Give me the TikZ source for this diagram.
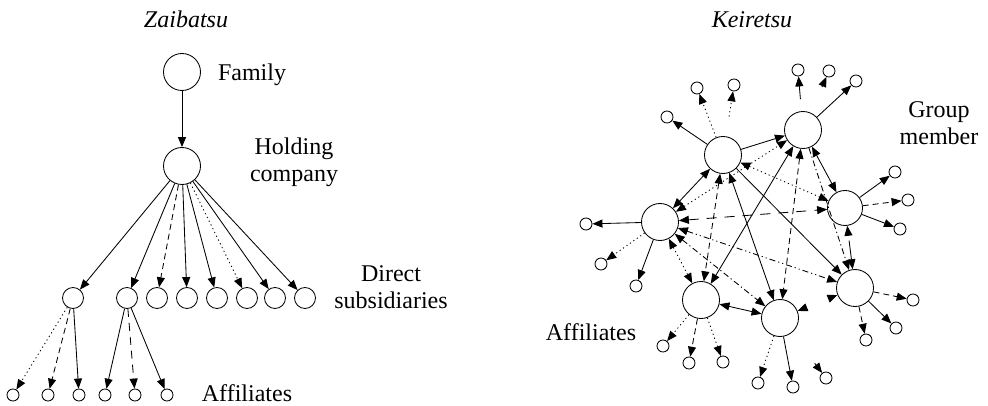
\documentclass[tikz,border=0pt]{standalone}
\usepackage{fontspec}
\setmainfont{Liberation Serif}
\usetikzlibrary{arrows.meta}
\begin{document}
\begin{tikzpicture}[x=1pt,y=-1pt, line width=0.85pt,
 big/.style={circle,draw,minimum size=37pt,inner sep=0pt},
 mid/.style={circle,draw,minimum size=21pt,inner sep=0pt},
 sml/.style={circle,draw,minimum size=12pt,inner sep=0pt},
 lbl/.style={font=\fontsize{24}{27}\selectfont, align=center, inner sep=0pt},
 ttl/.style={font=\fontsize{24}{27}\selectfont\itshape, inner sep=0pt, anchor=base},
 arr/.style={-{Triangle[length=10pt,width=8pt]}},
 barr/.style={{Triangle[length=10pt,width=8pt]}-{Triangle[length=10pt,width=8pt]}},
 ldash/.style={dash pattern=on 6pt off 4pt},
 ldot/.style={dash pattern=on 1.2pt off 3pt},
 ldd/.style={dash pattern=on 6pt off 3pt on 1.2pt off 3pt},
 lddd/.style={dash pattern=on 6pt off 3pt on 1.2pt off 3pt on 1.2pt off 3pt},
]
\useasboundingbox (0,0) rectangle (988,406);

% ---------------- Zaibatsu ----------------
\node[ttl] (tz) at (186,28) {Zaibatsu};
\node[big] (fam) at (182,72) {};
\node[big] (hold) at (182,166) {};
\node[lbl, anchor=base] (lfam) at (252,81) {Family};
\node[lbl] (lhold) at (294,162) {Holding\\company};
\node[lbl] (ldir) at (391,287) {Direct\\subsidiaries};
\node[lbl, anchor=base] (laff) at (247,401) {Affiliates};

\foreach \i/\x in {1/73,2/127,3/157,4/187,5/217,6/247,7/275,8/305}
  \node[mid] (s\i) at (\x,298) {};
\foreach \i/\x in {1/13,2/48,3/79,4/105,5/135,6/167}
  \node[sml] (z\i) at (\x,395) {};

\draw[arr] (fam) -- (hold);
\draw[arr] (hold) -- (s1);
\draw[arr] (hold) -- (s2);
\draw[arr, ldash] (hold) -- (s3);
\draw[arr] (hold) -- (s4);
\draw[arr] (hold) -- (s5);
\draw[arr, ldot] (hold) -- (s6);
\draw[arr] (hold) -- (s7);
\draw[arr] (hold) -- (s8);

\draw[arr, ldot] (s1) -- (z1);
\draw[arr, ldash] (s1) -- (z2);
\draw[arr] (s1) -- (z3);
\draw[arr] (s2) -- (z4);
\draw[arr, dash pattern=on 8pt off 6pt] (s2) -- (z5);
\draw[arr] (s2) -- (z6);

% ---------------- Keiretsu ----------------
\node[ttl] (tk) at (752,28) {Keiretsu};
\node[lbl] (lgrp) at (939,123) {Group\\member};
\node[lbl, anchor=base] (laff2) at (591,340) {Affiliates};

\node[big] (A) at (723,155) {};
\node[big] (B) at (803,130) {};
\node[big, minimum size=35pt] (C) at (845,208) {};
\node[big] (D) at (855,288) {};
\node[big] (E) at (660,222) {};
\node[big] (F) at (701,300) {};
\node[big] (G) at (780,318) {};

% affiliates of group members
\node[sml] (a1) at (667,117) {};
\node[sml] (a2) at (697,88) {};
\node[sml] (a3) at (734,85) {};
\node[sml] (b1) at (798,70) {};
\node[sml] (b2) at (829,71) {};
\node[sml] (b3) at (856,81) {};
\node[sml] (c1) at (895,172) {};
\node[sml] (c2) at (908,200) {};
\node[sml] (c3) at (900,229) {};
\node[sml] (d1) at (913,300) {};
\node[sml] (d2) at (896,328) {};
\node[sml] (d3) at (866,340) {};
\node[sml] (g1) at (758,383) {};
\node[sml] (g2) at (793,387) {};
\node[sml] (g3) at (826,378) {};
\node[sml] (f1) at (663,346) {};
\node[sml] (f2) at (689,363) {};
\node[sml] (f3) at (723,362) {};
\node[sml] (e1) at (586,224) {};
\node[sml] (e2) at (601,264) {};
\node[sml] (e3) at (636,286) {};

\draw[arr] (A) -- (a1);
\draw[arr, ldot] (A) -- (a2);
\draw[arr, ldot, shorten <=20pt] (A) -- (a3);
\draw[arr, shorten <=12pt] (B) -- (b1);
\draw[arr, shorten <=28pt] (B) -- (b2);
\draw[arr] (B) -- (b3);
\draw[arr] (C) -- (c1);
\draw[arr, ldash] (C) -- (c2);
\draw[arr] (C) -- (c3);
\draw[arr, ldash] (D) -- (d1);
\draw[arr] (D) -- (d2);
\draw[arr, ldash] (D) -- (d3);
\draw[arr, ldot] (G) -- (g1);
\draw[arr] (G) -- (g2);
\draw[arr, shorten <=38pt] (G) -- (g3);
\draw[arr, ldot] (F) -- (f1);
\draw[arr, ldash] (F) -- (f2);
\draw[arr, ldot] (F) -- (f3);
\draw[arr] (E) -- (e1);
\draw[arr, ldot] (E) -- (e2);
\draw[arr] (E) -- (e3);

% links between group members
\draw[arr] (A) -- (B);
\draw[barr] (E) -- (A);
\draw[barr, ldot] (A) -- (C);
\draw[barr] (B) -- (C);
\draw[barr, ldash] (B) -- (G);
\draw[barr] (F) -- (B);
\draw[arr] (A) -- (D);
\draw[barr] (A) -- (G);
\draw[barr, ldash] (A) -- (F);
\draw[barr, ldd] (E) -- (G);
\draw[barr, dash pattern=on 10pt off 8pt] (E) -- (C);
\draw[barr, lddd] (E) -- (D);
\draw[barr, ldot] (E) -- (F);
\draw[barr] (F) -- (G);
\draw[barr, ldot] (E) -- (B);
\draw[arr, ldd] (B) -- (D);
\draw[arr, shorten <=15pt] (C) -- (D);
\draw[arr, shorten <=35pt] (D) -- (C);
\draw[arr, shorten <=34pt] (G) -- (D);
\draw[arr, shorten <=34pt] (D) -- (G);
\end{tikzpicture}
\end{document}
